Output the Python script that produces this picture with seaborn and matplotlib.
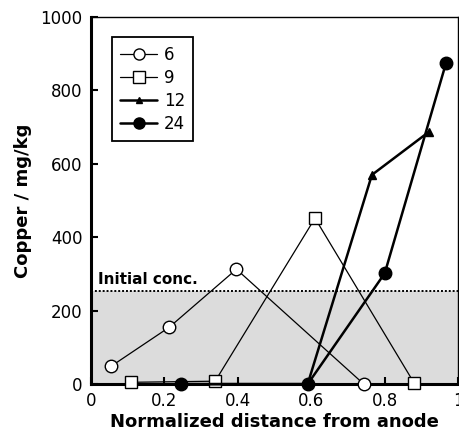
#%% import tools and libraries
import pandas as pd
import seaborn as sb
import matplotlib.pyplot as plt
from matplotlib.lines import Line2D

#%% data
x_6 = [0.055, 0.213, 0.396, 0.743]
y_6 = [49, 155, 313, 0]

x_9 = [0.11, 0.338, 0.61, 0.88]
y_9 = [5, 8, 452, 3]

x_12 = [0.245, 0.59, 0.765, 0.92]
y_12 = [0, 0, 570, 687]

x_24 = [0.245, 0.59, 0.80, 0.967]
y_24 = [0, 0, 302, 875]

initial_conc = 253
xticks = [0, 0.2, 0.4, 0.6, 0.8, 1]
xtick_labels = ['0', '0.2', '0.4', '0.6', '0.8', '1']
yticks = [0, 200, 400, 600, 800, 1000]

#%% build one long table
df = pd.concat([
    pd.DataFrame({'x': x_6, 'y': y_6, 'time': '6'}),
    pd.DataFrame({'x': x_9, 'y': y_9, 'time': '9'}),
    pd.DataFrame({'x': x_12, 'y': y_12, 'time': '12'}),
    pd.DataFrame({'x': x_24, 'y': y_24, 'time': '24'}),
], ignore_index=True)

styles = {
    '6':  dict(marker='o', mfc='white', ms=9, lw=0.9),
    '9':  dict(marker='s', mfc='white', ms=9, lw=0.9),
    '12': dict(marker='^', mfc='black', ms=6, lw=1.8),
    '24': dict(marker='o', mfc='black', ms=9, lw=1.8),
}

#%% plot
sb.set_style('ticks')
plt.rcParams['font.family'] = ['DejaVu Sans']
plt.rcParams['text.color'] = 'black'
plt.rcParams['axes.labelcolor'] = 'black'
fig = plt.figure(figsize=(4.6, 4.37), dpi=100)
ax = fig.add_axes([0.198, 0.121, 0.798, 0.84])

ax.axhspan(0, initial_conc, color='#dcdcdc', zorder=0, lw=0)
ax.axhline(initial_conc, color='black', ls=(0, (1, 1)), lw=1.4, zorder=1)
ax.text(0.02, initial_conc + 12, 'Initial conc.', fontsize=11, fontweight='bold',
        va='bottom', ha='left', color='black')

handles = []
for t, st in styles.items():
    sub = df[df['time'] == t]
    sb.lineplot(data=sub, x='x', y='y', ax=ax, color='black', lw=st['lw'],
                marker=st['marker'], markersize=st['ms'], markerfacecolor=st['mfc'],
                markeredgecolor='black', markeredgewidth=1.0, sort=False,
                clip_on=False, zorder=3, legend=False)
    handles.append(Line2D([], [], color='black', lw=st['lw'], marker=st['marker'],
                          markersize=st['ms'] - 1, markerfacecolor=st['mfc'],
                          markeredgecolor='black', label=t))

ax.set_xlim(0, 1)
ax.set_ylim(0, 1000)
ax.set_xticks(xticks)
ax.set_xticklabels(xtick_labels)
ax.set_yticks(yticks)
ax.tick_params(direction='in', length=5, width=1.5, labelsize=12, colors='black', pad=6)
ax.set_xlabel('Normalized distance from anode', fontsize=13, fontweight='bold',
              labelpad=2, color='black')
ax.set_ylabel('Copper / mg/kg', fontsize=13, fontweight='bold', labelpad=6, color='black')

for side in ['left', 'bottom']:
    ax.spines[side].set_linewidth(2.2)
for side in ['top', 'right']:
    ax.spines[side].set_linewidth(1.0)
for sp in ax.spines.values():
    sp.set_color('black')

leg = ax.legend(handles=handles, loc='upper left', bbox_to_anchor=(0.057, 0.945),
                borderaxespad=0, fancybox=False, shadow=False, edgecolor='black',
                fontsize=12, handlelength=2.2, handletextpad=0.4, labelspacing=0.3,
                borderpad=0.5, framealpha=1)
leg.get_frame().set_linewidth(1.3)

plt.savefig('out.png', dpi=100)
plt.close()
